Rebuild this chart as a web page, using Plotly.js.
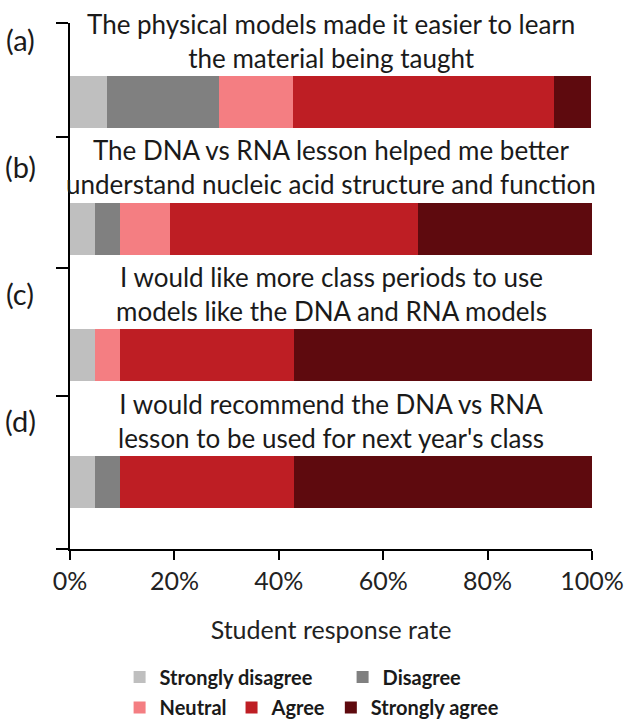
<!DOCTYPE html>
<html>
<head>
<meta charset="utf-8">
<script src="https://cdn.plot.ly/plotly-3.0.1.min.js"></script>
<style>html,body{margin:0;padding:0;background:#fff;}#chart{width:626px;height:723px;}</style>
</head>
<body>
<div id="chart"></div>
<script>
// ---- data ----
const panelLabels = ['(a)', '(b)', '(c)', '(d)'];
const statements = [
  'The physical models made it easier to learn<br>the material being taught',
  'The DNA vs RNA lesson helped me better<br>understand nucleic acid structure and function',
  'I would like more class periods to use<br>models like the DNA and RNA models',
  'I would recommend the DNA vs RNA<br>lesson to be used for next year\'s class'
];
const positions = [0, 1, 2, 3];
const seriesNames = ['Strongly disagree', 'Disagree', 'Neutral', 'Agree', 'Strongly agree'];
const stronglyDisagree = [7.1, 4.8, 4.8, 4.8];
const disagree         = [21.4, 4.8, 0, 4.8];
const neutral          = [14.3, 9.5, 4.8, 0];
const agree            = [50.0, 47.6, 33.3, 33.3];
const stronglyAgree    = [7.1, 33.3, 57.1, 57.1];
const xTicks = [0, 20, 40, 60, 80, 100];
const yBoundaryTicks = [-0.624, 0.276, 1.31, 2.32, 3.528];

const seriesValues = [stronglyDisagree, disagree, neutral, agree, stronglyAgree];
const colors = ['#BFBFBF', '#808080', '#F47E82', '#BE1E24', '#5E0A0E'];
const legendFor = ['legend', 'legend', 'legend2', 'legend2', 'legend2'];

const font = 'Lato, "Open Sans", sans-serif';

const traces = seriesValues.map((vals, k) => ({
  type: 'bar',
  orientation: 'h',
  name: seriesNames[k],
  x: vals,
  y: positions,
  width: 0.41,
  marker: {color: colors[k], line: {width: 0}},
  legend: legendFor[k],
  hoverinfo: 'x+name'
}));

const annotations = [];
positions.forEach((p, i) => {
  annotations.push({
    xref: 'paper', yref: 'y', x: 0.5, y: p - 0.485,
    xanchor: 'center', yanchor: 'middle',
    text: statements[i], showarrow: false, align: 'center',
    font: {family: font, size: 26, color: '#1a1a1a'}
  });
  annotations.push({
    xref: 'paper', yref: 'y', x: -0.095, y: p - 0.49,
    xanchor: 'center', yanchor: 'middle',
    text: panelLabels[i], showarrow: false,
    font: {family: font, size: 29, color: '#1a1a1a'}
  });
});

const layout = {
  width: 626, height: 723,
  margin: {l: 70, r: 34, t: 23, b: 174, autoexpand: false},
  paper_bgcolor: '#fff', plot_bgcolor: '#fff',
  barmode: 'stack',
  bargap: 0,
  showlegend: true,
  xaxis: {
    range: [0, 100], tickvals: xTicks, ticktext: xTicks.map(v => v + '%'),
    showgrid: false, zeroline: false,
    showline: true, linecolor: '#000', linewidth: 2,
    ticks: 'outside', ticklen: 9, tickwidth: 2, tickcolor: '#000',
    tickfont: {family: font, size: 25, color: '#222'},
    title: {text: 'Student response rate', font: {family: font, size: 25, color: '#222'}, standoff: 27},
    automargin: false,
    fixedrange: true
  },
  yaxis: {
    range: [3.528, -0.624],
    tickvals: yBoundaryTicks, showticklabels: false,
    showgrid: false, zeroline: false,
    showline: true, linecolor: '#000', linewidth: 2,
    ticks: 'outside', ticklen: 12, tickwidth: 2, tickcolor: '#000',
    automargin: false,
    fixedrange: true
  },
  legend: {
    orientation: 'h', x: 0.095, xanchor: 'left', y: -0.2435, yanchor: 'middle',
    font: {family: font, size: 20, color: '#1a1a1a', weight: 'bold'},
    itemwidth: 30, entrywidth: 178, traceorder: 'normal', bgcolor: 'rgba(0,0,0,0)'
  },
  legend2: {
    orientation: 'h', x: 0.095, xanchor: 'left', y: -0.3015, yanchor: 'middle',
    font: {family: font, size: 20, color: '#1a1a1a', weight: 'bold'},
    itemwidth: 30, traceorder: 'normal', bgcolor: 'rgba(0,0,0,0)'
  },
  annotations: annotations
};

Plotly.newPlot('chart', traces, layout, {displayModeBar: false, staticPlot: true});
</script>
</body>
</html>
